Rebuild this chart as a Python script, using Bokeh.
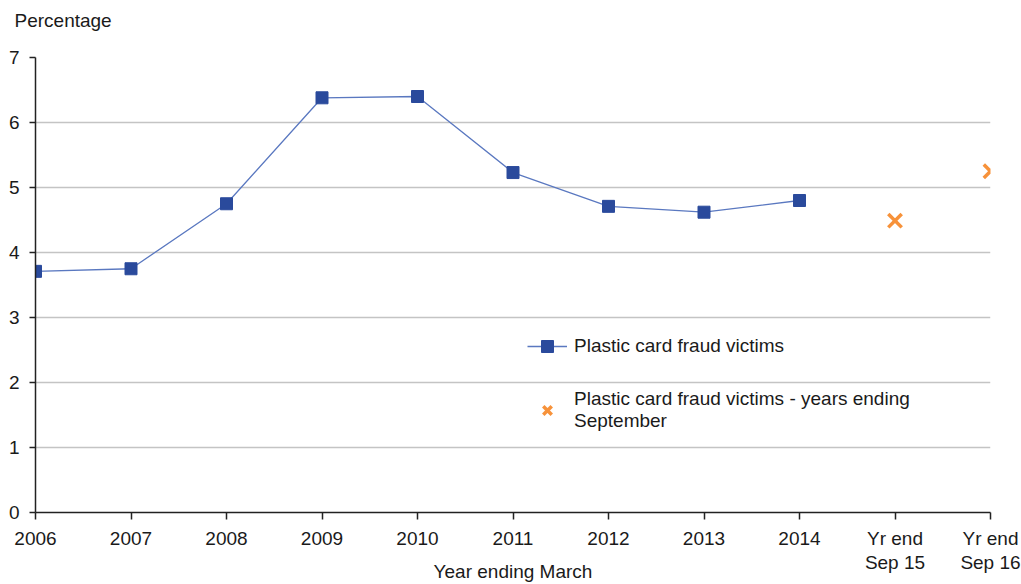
from bokeh.plotting import figure
from bokeh.models import Range1d, Legend, LegendItem, FixedTicker
from bokeh.embed import file_html
from bokeh.resources import INLINE

categories = ["2006", "2007", "2008", "2009", "2010", "2011", "2012", "2013", "2014",
              "Yr end\nSep 15", "Yr end\nSep 16"]
march_values = [3.71, 3.75, 4.75, 6.38, 6.40, 5.23, 4.71, 4.62, 4.80]
sep_values = [4.49, 5.25]
y_ticks = [0, 1, 2, 3, 4, 5, 6, 7]

march_x = list(range(len(march_values)))
sep_x = [len(march_values) + i for i in range(len(sep_values))]

FONT = "Liberation Sans"
TXT = "#1a1a1a"
FS = "19px"

p = figure(width=1021, height=584, output_backend="svg", toolbar_location=None,
           x_range=Range1d(0, len(categories) - 1), y_range=Range1d(0, 7),
           min_border_left=35, min_border_right=31, min_border_top=57, min_border_bottom=71,
           title="Percentage\n ")
p.outline_line_color = None
p.background_fill_color = "white"

p.title.align = "left"
p.title.offset = -21
p.title.standoff = 11
p.title.text_line_height = 1.0
p.title.text_font = FONT
p.title.text_font_size = FS
p.title.text_font_style = "normal"
p.title.text_color = TXT

p.xgrid.grid_line_color = None
p.ygrid.grid_line_color = "#c4c4c4"
p.ygrid.grid_line_width = 1.5

p.xaxis.ticker = FixedTicker(ticks=list(range(len(categories))))
p.xaxis.major_label_overrides = {i: c for i, c in enumerate(categories)}
p.yaxis.ticker = FixedTicker(ticks=y_ticks)

for ax in (p.xaxis[0], p.yaxis[0]):
    ax.axis_line_color = "#222222"
    ax.axis_line_width = 1.5
    ax.major_tick_line_color = "#222222"
    ax.major_tick_line_width = 1.5
    ax.minor_tick_line_color = None
    ax.major_tick_in = 0
    ax.major_label_text_font = FONT
    ax.major_label_text_font_size = FS
    ax.major_label_text_color = TXT

p.xaxis.major_tick_out = 7
p.xaxis.major_label_standoff = 8
p.xaxis.major_label_text_line_height = 1.15
p.xaxis.axis_label = "Year ending March"
p.xaxis.axis_label_standoff = -15
p.xaxis.axis_label_text_font = FONT
p.xaxis.axis_label_text_font_size = FS
p.xaxis.axis_label_text_font_style = "normal"
p.xaxis.axis_label_text_color = TXT
p.xaxis.axis_label_text_line_height = 1.0
p.yaxis.major_tick_out = 6
p.yaxis.major_label_standoff = 10

line_r = p.line(march_x, march_values, line_color="#5a78c0", line_width=1.3)
sq_r = p.scatter(march_x, march_values, marker="square", size=12,
                 fill_color="#2a4a9c", line_color="#2a4a9c")
x_r = p.scatter(sep_x, sep_values, marker="x", size=19, line_color="#f7923a", line_width=3.5)

legend = Legend(items=[
    LegendItem(label="Plastic card fraud victims", renderers=[line_r, sq_r]),
    LegendItem(label="Plastic card fraud victims - years ending\nSeptember", renderers=[x_r]),
], location=(492, 80))
legend.background_fill_alpha = 0
legend.border_line_color = None
legend.label_text_font = FONT
legend.label_text_font_size = FS
legend.label_text_color = TXT
legend.label_text_line_height = 1.15
legend.glyph_width = 40
legend.glyph_height = 30
legend.spacing = 27
legend.label_standoff = 7
p.add_layout(legend)

open("out.html", "w").write(file_html(p, INLINE))
